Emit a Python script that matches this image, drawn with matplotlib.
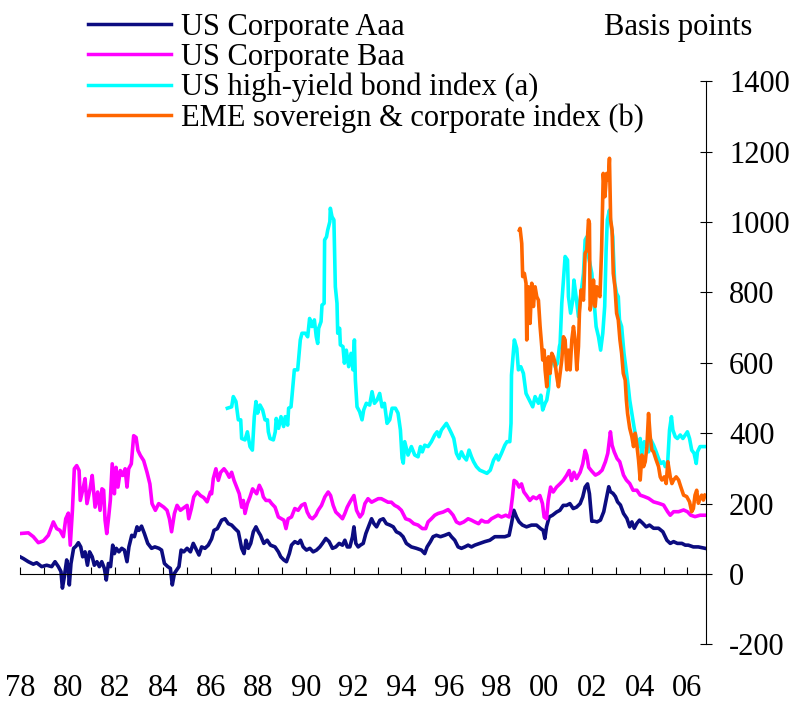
import matplotlib
matplotlib.use('Agg')
import matplotlib.pyplot as plt
from matplotlib.ticker import MultipleLocator

plt.rcParams['font.family'] = ['Liberation Serif', 'DejaVu Serif']
plt.rcParams['axes.unicode_minus'] = False

# Spreads in basis points
aaa_year = [1978.00, 1978.14, 1978.35, 1978.56, 1978.70, 1978.91, 1979.12, 1979.33, 1979.47, 1979.61,
            1979.72, 1979.78, 1979.86, 1979.96, 1980.03, 1980.07, 1980.14, 1980.25, 1980.35, 1980.45,
            1980.55, 1980.63, 1980.73, 1980.83, 1980.92, 1981.03, 1981.12, 1981.23, 1981.33, 1981.43,
            1981.54, 1981.62, 1981.71, 1981.80, 1981.89, 1981.96, 1982.04, 1982.15, 1982.27, 1982.38,
            1982.49, 1982.57, 1982.69, 1982.80, 1982.91, 1982.99, 1983.10, 1983.22, 1983.36, 1983.52,
            1983.66, 1983.83, 1983.94, 1984.06, 1984.20, 1984.31, 1984.39, 1984.48, 1984.57, 1984.67,
            1984.76, 1984.87, 1985.01, 1985.15, 1985.27, 1985.41, 1985.51, 1985.62, 1985.76, 1985.90,
            1986.04, 1986.14, 1986.28, 1986.46, 1986.60, 1986.74, 1986.88, 1987.02, 1987.16, 1987.30,
            1987.40, 1987.48, 1987.58, 1987.68, 1987.79, 1987.90, 1988.00, 1988.09, 1988.23, 1988.37,
            1988.51, 1988.70, 1988.84, 1988.94, 1989.07, 1989.18, 1989.30, 1989.39, 1989.53, 1989.67,
            1989.77, 1989.88, 1990.02, 1990.16, 1990.30, 1990.44, 1990.58, 1990.69, 1990.83, 1990.97,
            1991.11, 1991.25, 1991.39, 1991.53, 1991.63, 1991.73, 1991.84, 1991.95, 1992.01, 1992.09,
            1992.19, 1992.28, 1992.40, 1992.51, 1992.65, 1992.75, 1992.85, 1992.96, 1993.10, 1993.24,
            1993.37, 1993.52, 1993.66, 1993.79, 1993.94, 1994.07, 1994.21, 1994.42, 1994.63, 1994.84,
            1994.98, 1995.08, 1995.22, 1995.33, 1995.47, 1995.64, 1995.82, 1996.00, 1996.10, 1996.24,
            1996.38, 1996.52, 1996.66, 1996.80, 1996.94, 1997.08, 1997.29, 1997.50, 1997.71, 1997.92,
            1998.13, 1998.34, 1998.52, 1998.62, 1998.72, 1998.83, 1998.94, 1999.08, 1999.25, 1999.46,
            1999.67, 1999.84, 1999.95, 2000.02, 2000.09, 2000.20, 2000.34, 2000.51, 2000.65, 2000.79,
            2000.93, 2001.07, 2001.21, 2001.35, 2001.50, 2001.61, 2001.71, 2001.81, 2001.89, 2001.99,
            2002.10, 2002.21, 2002.35, 2002.49, 2002.60, 2002.70, 2002.77, 2002.88, 2002.98, 2003.07,
            2003.19, 2003.32, 2003.46, 2003.58, 2003.67, 2003.77, 2003.88, 2003.99, 2004.13, 2004.27,
            2004.41, 2004.58, 2004.79, 2004.97, 2005.14, 2005.28, 2005.42, 2005.58, 2005.77, 2005.91,
            2006.04, 2006.25, 2006.46, 2006.74]
aaa_bp = [49, 44, 35, 28, 32, 21, 25, 21, 35, 21,
          7, -40, -8, 40, 16, -31, 30, 73, 79, 89,
          77, 49, 63, 25, 63, 49, 25, 35, 21, 35,
          16, -17, 30, 21, 82, 58, 73, 63, 73, 68,
          35, 77, 110, 106, 134, 124, 136, 115, 87, 73,
          77, 73, 68, 30, 21, 16, -31, 2, 11, 21,
          68, 63, 73, 63, 87, 68, 54, 77, 73, 82,
          100, 124, 129, 153, 157, 143, 139, 129, 120, 73,
          58, 96, 73, 87, 120, 134, 120, 110, 87, 96,
          82, 77, 63, 49, 40, 35, 58, 82, 92, 87,
          96, 77, 68, 73, 63, 68, 77, 87, 101, 92,
          73, 77, 87, 82, 96, 77, 77, 106, 134, 87,
          77, 82, 87, 115, 139, 157, 143, 134, 153, 157,
          143, 139, 134, 120, 115, 106, 87, 77, 73, 68,
          58, 77, 92, 106, 110, 106, 110, 115, 106, 96,
          77, 73, 77, 82, 77, 82, 87, 92, 96, 106,
          106, 106, 110, 143, 181, 162, 148, 139, 134, 139,
          139, 129, 124, 101, 134, 162, 167, 176, 181, 195,
          195, 200, 186, 190, 200, 219, 247, 256, 228, 150,
          150, 148, 153, 177, 215, 248, 234, 229, 220, 205,
          196, 172, 158, 134, 148, 130, 144, 153, 144, 134,
          139, 130, 130, 120, 96, 87, 92, 87, 87, 82,
          82, 77, 77, 73]

baa_year = [1978.00, 1978.35, 1978.56, 1978.77, 1978.98, 1979.19, 1979.40, 1979.54, 1979.68, 1979.82,
            1979.92, 1980.03, 1980.11, 1980.20, 1980.28, 1980.38, 1980.48, 1980.53, 1980.66, 1980.73,
            1980.81, 1980.94, 1981.03, 1981.15, 1981.26, 1981.36, 1981.44, 1981.51, 1981.57, 1981.64,
            1981.72, 1981.79, 1981.87, 1981.96, 1982.03, 1982.11, 1982.21, 1982.31, 1982.41, 1982.49,
            1982.56, 1982.67, 1982.77, 1982.87, 1982.95, 1983.05, 1983.19, 1983.33, 1983.45, 1983.54,
            1983.68, 1983.82, 1984.03, 1984.17, 1984.27, 1984.36, 1984.48, 1984.59, 1984.73, 1984.87,
            1985.01, 1985.08, 1985.19, 1985.29, 1985.43, 1985.57, 1985.71, 1985.85, 1985.99, 1986.04,
            1986.11, 1986.22, 1986.32, 1986.42, 1986.56, 1986.67, 1986.78, 1986.88, 1986.98, 1987.09,
            1987.20, 1987.30, 1987.37, 1987.44, 1987.54, 1987.65, 1987.76, 1987.93, 1988.04, 1988.14,
            1988.21, 1988.32, 1988.46, 1988.56, 1988.70, 1988.84, 1988.97, 1989.07, 1989.16, 1989.25,
            1989.39, 1989.53, 1989.67, 1989.81, 1989.95, 1990.05, 1990.16, 1990.27, 1990.41, 1990.51,
            1990.65, 1990.79, 1990.93, 1991.03, 1991.14, 1991.25, 1991.39, 1991.53, 1991.63, 1991.73,
            1991.84, 1992.01, 1992.12, 1992.26, 1992.37, 1992.47, 1992.60, 1992.75, 1992.89, 1993.03,
            1993.16, 1993.30, 1993.44, 1993.58, 1993.72, 1993.86, 1994.00, 1994.18, 1994.35, 1994.52,
            1994.70, 1994.88, 1995.02, 1995.12, 1995.26, 1995.40, 1995.54, 1995.75, 1995.96, 1996.06,
            1996.17, 1996.31, 1996.45, 1996.62, 1996.80, 1996.94, 1997.08, 1997.24, 1997.36, 1997.50,
            1997.64, 1997.78, 1997.92, 1998.06, 1998.20, 1998.38, 1998.52, 1998.59, 1998.66, 1998.73,
            1998.83, 1998.94, 1999.04, 1999.14, 1999.25, 1999.39, 1999.53, 1999.67, 1999.81, 1999.92,
            1999.99, 2000.09, 2000.16, 2000.26, 2000.37, 2000.51, 2000.65, 2000.79, 2000.93, 2001.04,
            2001.14, 2001.24, 2001.35, 2001.50, 2001.61, 2001.71, 2001.78, 2001.86, 2001.99, 2002.14,
            2002.28, 2002.42, 2002.56, 2002.66, 2002.73, 2002.77, 2002.84, 2002.93, 2003.05, 2003.16,
            2003.26, 2003.32, 2003.44, 2003.58, 2003.72, 2003.88, 2004.02, 2004.19, 2004.37, 2004.58,
            2004.79, 2005.00, 2005.17, 2005.28, 2005.42, 2005.63, 2005.84, 2006.00, 2006.14, 2006.32,
            2006.53, 2006.74]
baa_bp = [115, 117, 106, 89, 94, 110, 148, 129, 124, 106,
          157, 173, 82, 181, 299, 308, 294, 209, 247, 271,
          200, 242, 280, 190, 233, 181, 242, 238, 153, 115,
          162, 209, 313, 228, 303, 247, 294, 280, 299, 247,
          299, 313, 393, 388, 351, 337, 322, 289, 256, 200,
          181, 200, 190, 181, 157, 120, 172, 195, 181, 188,
          195, 157, 186, 219, 233, 223, 217, 205, 233, 228,
          271, 299, 266, 289, 299, 289, 275, 289, 266, 247,
          228, 190, 209, 172, 200, 219, 242, 228, 252, 238,
          219, 209, 209, 200, 190, 162, 157, 153, 129, 157,
          162, 186, 181, 195, 200, 176, 162, 157, 167, 181,
          195, 219, 233, 223, 195, 176, 167, 157, 172, 190,
          204, 223, 181, 162, 172, 200, 214, 204, 209, 214,
          214, 209, 204, 204, 195, 190, 181, 157, 153, 143,
          139, 129, 129, 148, 157, 167, 172, 176, 183, 176,
          167, 148, 143, 148, 157, 153, 148, 143, 153, 148,
          148, 157, 162, 167, 162, 167, 162, 181, 219, 266,
          261, 247, 256, 233, 223, 209, 219, 214, 223, 200,
          162, 157, 209, 247, 233, 247, 256, 266, 280, 294,
          266, 289, 271, 289, 313, 351, 337, 303, 292, 281,
          286, 295, 319, 343, 381, 404, 366, 347, 328, 319,
          295, 281, 267, 257, 238, 238, 224, 220, 215, 205,
          201, 196, 177, 167, 177, 177, 182, 177, 167, 163,
          167, 167]

hy_year = [1986.70, 1986.88, 1986.95, 1987.06, 1987.16, 1987.26, 1987.30, 1987.44, 1987.54, 1987.65,
           1987.75, 1987.83, 1987.90, 1987.97, 1988.07, 1988.18, 1988.28, 1988.38, 1988.42, 1988.49,
           1988.63, 1988.71, 1988.75, 1988.85, 1988.95, 1989.06, 1989.13, 1989.23, 1989.27, 1989.37,
           1989.41, 1989.51, 1989.65, 1989.76, 1989.83, 1989.97, 1990.07, 1990.15, 1990.25, 1990.35,
           1990.43, 1990.49, 1990.53, 1990.63, 1990.67, 1990.76, 1990.78, 1990.86, 1990.91, 1991.00,
           1991.02, 1991.09, 1991.17, 1991.23, 1991.30, 1991.33, 1991.41, 1991.44, 1991.55, 1991.61,
           1991.69, 1991.79, 1991.89, 1991.97, 1992.03, 1992.07, 1992.14, 1992.25, 1992.35, 1992.42,
           1992.53, 1992.67, 1992.77, 1992.87, 1992.98, 1993.09, 1993.19, 1993.29, 1993.40, 1993.51,
           1993.61, 1993.75, 1993.86, 1993.96, 1994.03, 1994.08, 1994.14, 1994.28, 1994.42, 1994.56,
           1994.70, 1994.80, 1994.88, 1994.98, 1995.12, 1995.26, 1995.40, 1995.50, 1995.58, 1995.68,
           1995.78, 1995.89, 1996.00, 1996.10, 1996.20, 1996.31, 1996.42, 1996.52, 1996.62, 1996.73,
           1996.84, 1996.94, 1997.03, 1997.15, 1997.29, 1997.43, 1997.59, 1997.73, 1997.87, 1997.99,
           1998.07, 1998.20, 1998.34, 1998.43, 1998.55, 1998.60, 1998.62, 1998.74, 1998.84, 1998.91,
           1999.01, 1999.12, 1999.23, 1999.37, 1999.51, 1999.61, 1999.75, 1999.85, 1999.93, 2000.03,
           2000.10, 2000.17, 2000.24, 2000.35, 2000.45, 2000.55, 2000.63, 2000.66, 2000.73, 2000.87,
           2000.97, 2001.01, 2001.10, 2001.19, 2001.24, 2001.33, 2001.43, 2001.50, 2001.57, 2001.64,
           2001.71, 2001.78, 2001.85, 2001.99, 2002.08, 2002.17, 2002.27, 2002.36, 2002.45, 2002.53,
           2002.59, 2002.64, 2002.73, 2002.78, 2002.87, 2002.89, 2002.95, 2003.03, 2003.10, 2003.15,
           2003.24, 2003.34, 2003.45, 2003.52, 2003.58, 2003.67, 2003.77, 2003.88, 2003.95, 2004.02,
           2004.09, 2004.19, 2004.30, 2004.37, 2004.47, 2004.58, 2004.69, 2004.79, 2004.89, 2005.00,
           2005.07, 2005.17, 2005.25, 2005.33, 2005.39, 2005.49, 2005.58, 2005.70, 2005.81, 2005.91,
           2006.00, 2006.09, 2006.18, 2006.28, 2006.37, 2006.42, 2006.53, 2006.67, 2006.74]
hy_bp = [471, 475, 504, 490, 438, 438, 385, 381, 404, 362,
         352, 447, 490, 457, 480, 466, 438, 438, 404, 385,
         381, 404, 442, 414, 447, 419, 447, 423, 471, 475,
         504, 580, 580, 665, 684, 684, 674, 726, 703, 722,
         674, 655, 698, 717, 764, 769, 949, 958, 977, 1001,
         1039, 1015, 1006, 816, 769, 684, 698, 651, 646, 599,
         636, 589, 627, 580, 665, 551, 475, 461, 438, 466,
         485, 480, 518, 485, 494, 513, 475, 485, 428, 438,
         471, 471, 457, 409, 329, 315, 376, 338, 362, 338,
         333, 362, 347, 366, 362, 376, 395, 404, 390, 409,
         418, 428, 414, 400, 385, 343, 328, 347, 333, 324,
         352, 333, 319, 305, 295, 291, 286, 295, 324, 338,
         324, 343, 366, 376, 376, 428, 565, 665, 641, 580,
         589, 570, 513, 494, 475, 504, 485, 508, 466, 485,
         494, 523, 589, 617, 589, 599, 646, 655, 769, 902,
         892, 788, 741, 778, 835, 788, 731, 778, 816, 854,
         949, 958, 902, 854, 778, 703, 674, 636, 684, 760,
         920, 1006, 1034, 1001, 958, 920, 826, 797, 788, 722,
         703, 627, 570, 532, 494, 456, 414, 376, 362, 385,
         338, 376, 371, 347, 381, 366, 347, 328, 314, 319,
         305, 314, 409, 447, 409, 390, 385, 395, 385, 395,
         404, 385, 352, 343, 314, 347, 362, 362, 362]

eme_year = [1998.95, 1998.98, 1999.05, 1999.09, 1999.16, 1999.23, 1999.26, 1999.33, 1999.40, 1999.47,
            1999.54, 1999.61, 1999.68, 1999.75, 1999.82, 1999.89, 1999.93, 1999.99, 2000.03, 2000.10,
            2000.17, 2000.24, 2000.31, 2000.38, 2000.45, 2000.52, 2000.59, 2000.66, 2000.73, 2000.80,
            2000.87, 2000.94, 2001.01, 2001.08, 2001.15, 2001.22, 2001.29, 2001.36, 2001.43, 2001.47,
            2001.54, 2001.64, 2001.71, 2001.78, 2001.85, 2001.89, 2001.92, 2001.99, 2002.06, 2002.13,
            2002.20, 2002.27, 2002.33, 2002.40, 2002.47, 2002.54, 2002.61, 2002.68, 2002.73, 2002.75,
            2002.78, 2002.84, 2002.89, 2002.96, 2003.03, 2003.10, 2003.17, 2003.24, 2003.31, 2003.39,
            2003.44, 2003.49, 2003.58, 2003.67, 2003.74, 2003.81, 2003.88, 2003.95, 2004.02, 2004.09,
            2004.16, 2004.23, 2004.30, 2004.37, 2004.44, 2004.51, 2004.58, 2004.69, 2004.79, 2004.86,
            2004.93, 2005.03, 2005.11, 2005.18, 2005.28, 2005.35, 2005.42, 2005.53, 2005.63, 2005.72,
            2005.84, 2005.97, 2006.09, 2006.18, 2006.25, 2006.32, 2006.39, 2006.46, 2006.53, 2006.60,
            2006.67, 2006.74]
eme_bp = [977, 982, 939, 845, 854, 826, 665, 816, 712, 826,
          760, 816, 788, 778, 703, 646, 608, 636, 580, 532,
          617, 570, 627, 617, 599, 561, 532, 570, 608, 674,
          665, 580, 636, 580, 665, 703, 665, 580, 646, 741,
          807, 778, 911, 920, 1006, 996, 750, 778, 835, 760,
          816, 797, 788, 920, 1138, 1072, 1138, 1119, 1181, 1110,
          1006, 977, 854, 816, 741, 722, 665, 627, 570, 551,
          494, 456, 414, 390, 362, 400, 366, 324, 267, 338,
          305, 319, 362, 456, 390, 352, 347, 324, 305, 276,
          267, 276, 257, 319, 276, 257, 267, 276, 267, 248,
          224, 220, 205, 177, 186, 224, 238, 201, 215, 224,
          210, 224]

label_years = list(range(1978, 2007, 2))
xtick_labels = ['78', '80', '82', '84', '86', '88', '90', '92', '94', '96',
                '98', '00', '02', '04', '06']
yticks = list(range(-200, 1401, 200))

fig = plt.figure(figsize=(7.99, 7.08), dpi=100)
ax = fig.add_axes([0.025, 0.0898, 0.8586, 0.7955])

ax.plot(aaa_year, aaa_bp, color='#0c0c80', lw=2.6, label='US Corporate Aaa')
ax.plot(baa_year, baa_bp, color='#ff00ff', lw=2.6, label='US Corporate Baa')
ax.plot(hy_year, hy_bp, color='#00ffff', lw=2.6, label='US high-yield bond index (a)')
ax.plot(eme_year, eme_bp, color='#ff6600', lw=2.6, label='EME sovereign & corporate index (b)')

ax.set_xlim(1978, 2006.78)
ax.set_ylim(-200, 1400)

ax.spines['left'].set_visible(False)
ax.spines['top'].set_visible(False)
ax.spines['bottom'].set_position(('data', 0))
for s in ['bottom', 'right']:
    ax.spines[s].set_linewidth(0.8)

ax.yaxis.tick_right()
ax.set_yticks(yticks)
ax.tick_params(axis='y', direction='inout', length=9, width=0.8, pad=12, labelsize=22)

ax.set_xticks(label_years, xtick_labels)
ax.xaxis.set_minor_locator(MultipleLocator(1))
ax.tick_params(axis='x', which='both', direction='in', length=5, width=0.8, pad=72, labelsize=22)

leg = ax.legend(loc='upper left', bbox_to_anchor=(88 / 799, 1 - 13 / 708),
                bbox_transform=fig.transFigure, frameon=False, fontsize=22,
                handlelength=2.7, handletextpad=0.33, labelspacing=0.03,
                borderpad=0, borderaxespad=0)
for line in leg.get_lines():
    line.set_linewidth(2.5)

fig.text(752 / 799, 1 - 27 / 708, 'Basis points', ha='right', va='center', fontsize=22)

fig.savefig('out.png', dpi=100)
